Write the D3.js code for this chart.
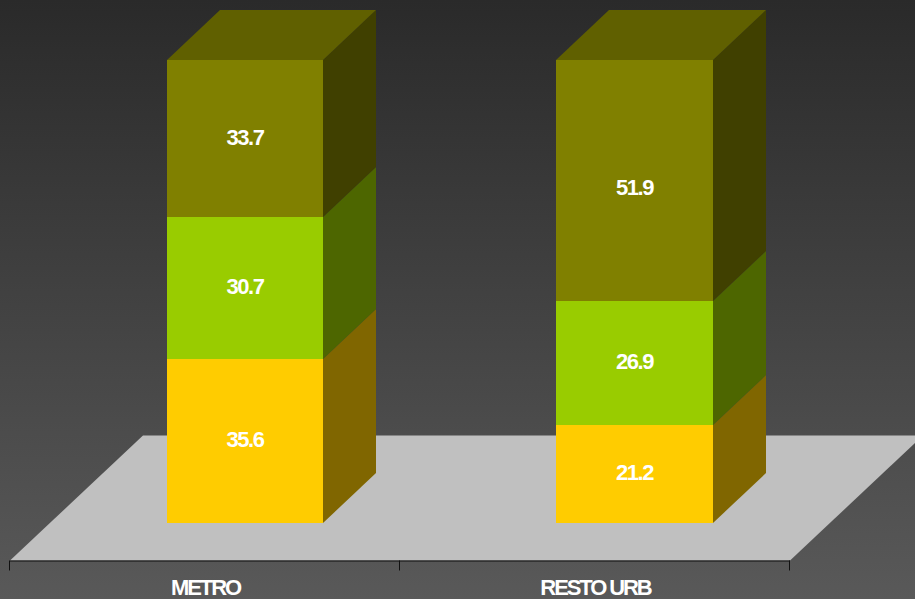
<!DOCTYPE html>
<html><head><meta charset="utf-8">
<script src="https://cdn.jsdelivr.net/npm/d3@7"></script>
<style>html,body{margin:0;padding:0;background:#2b2b2b;overflow:hidden}svg{display:block}
text{font-family:"Liberation Sans",Arial,sans-serif;font-weight:bold;fill:#fff;text-anchor:middle}
text.val{letter-spacing:-1.5px}text.cat{letter-spacing:-2.1px}</style>
</head><body><script>
const categories = ["METRO", "RESTO URB"];
const seriesA = [35.6, 21.2];
const seriesB = [30.7, 26.9];
const seriesC = [33.7, 51.9];
const frontColors = ["#ffcc00", "#99cc00", "#808000"];
const sideColors = ["#806600", "#4d6600", "#404000"];
const topColor = "#606000";
// vertical label nudges (px) per series, per category
const labelNudge = [[-2, -2], [-2, -2], [-1, 7]];

const W = 915, H = 599;
const svg = d3.select("body").append("svg").attr("width", W).attr("height", H);
const defs = svg.append("defs");
const g = defs.append("linearGradient").attr("id", "bg").attr("x1", 0).attr("y1", 0).attr("x2", 0).attr("y2", 1);
g.append("stop").attr("offset", 0).attr("stop-color", "#2a2a2a");
g.append("stop").attr("offset", 1).attr("stop-color", "#595959");
svg.append("rect").attr("width", W).attr("height", H).attr("fill", "url(#bg)");

const x = d3.scaleBand().domain(categories).range([9.5, 789.5]);
const barL = d3.scalePoint().domain(categories).range([167, 556]);
const barR = d3.scalePoint().domain(categories).range([323, 713]);
const yScale = d3.scaleLinear().domain([0, 100]).range([523, 60]);
const y = v => Math.ceil(yScale(v) - 0.01);
const depth = {dx: 53, dy: -50};
const floor = {dx: 133, dy: -125, y: 560.5, x0: 10, x1: 790};

svg.append("path")
  .attr("d", `M${floor.x0},${floor.y}L${floor.x1},${floor.y}L${floor.x1 + floor.dx},${floor.y + floor.dy}L${floor.x0 + floor.dx},${floor.y + floor.dy}Z`)
  .attr("fill", "#c0c0c0");

const ax = svg.append("g").attr("transform", `translate(0,${floor.y})`)
  .call(d3.axisBottom(x).tickSizeOuter(0).tickSize(0).tickFormat(""));
ax.select(".domain").attr("stroke", "#111").attr("stroke-width", 1);
const tickPos = [...categories.map(c => x(c)), x.range()[1]];
ax.selectAll("line.t").data(tickPos).join("line").attr("class", "t")
  .attr("x1", d => d).attr("x2", d => d).attr("y1", 0).attr("y2", 10)
  .attr("stroke", "#111").attr("stroke-width", 1);

const series = [seriesA, seriesB, seriesC];
const stacked = categories.map((c, i) => {
  let acc = 0;
  return series.map((s, k) => { const r = {c, i, k, v: s[i], y0: acc, y1: acc + s[i]}; acc += s[i]; return r; });
});
stacked.forEach(st => {
  const c = st[0].c, l = barL(c), r = barR(c);
  const group = svg.append("g");
  group.selectAll("path.side").data(st).join("path").attr("class", "side")
    .attr("fill", d => sideColors[d.k])
    .attr("d", d => `M${r},${y(d.y0)}L${r + depth.dx},${y(d.y0) + depth.dy}L${r + depth.dx},${y(d.y1) + depth.dy}L${r},${y(d.y1)}Z`);
  const top = y(st[st.length - 1].y1);
  group.append("path").attr("fill", topColor)
    .attr("d", `M${l},${top}L${r},${top}L${r + depth.dx},${top + depth.dy}L${l + depth.dx},${top + depth.dy}Z`);
  group.selectAll("rect").data(st).join("rect")
    .attr("x", l).attr("width", r - l)
    .attr("y", d => y(d.y1)).attr("height", d => y(d.y0) - y(d.y1))
    .attr("fill", d => frontColors[d.k]);
  group.selectAll("text").data(st).join("text").attr("class", "val")
    .attr("x", (l + r) / 2)
    .attr("y", d => (y(d.y0) + y(d.y1)) / 2 + 7.5 + labelNudge[d.k][d.i])
    .attr("font-size", 22).text(d => d.v.toFixed(1));
});

svg.selectAll("text.cat").data(categories).join("text").attr("class", "cat")
  .attr("x", c => x(c) + x.bandwidth() / 2 + 1).attr("y", 595)
  .attr("font-size", 22).text(c => c);
</script></body></html>
